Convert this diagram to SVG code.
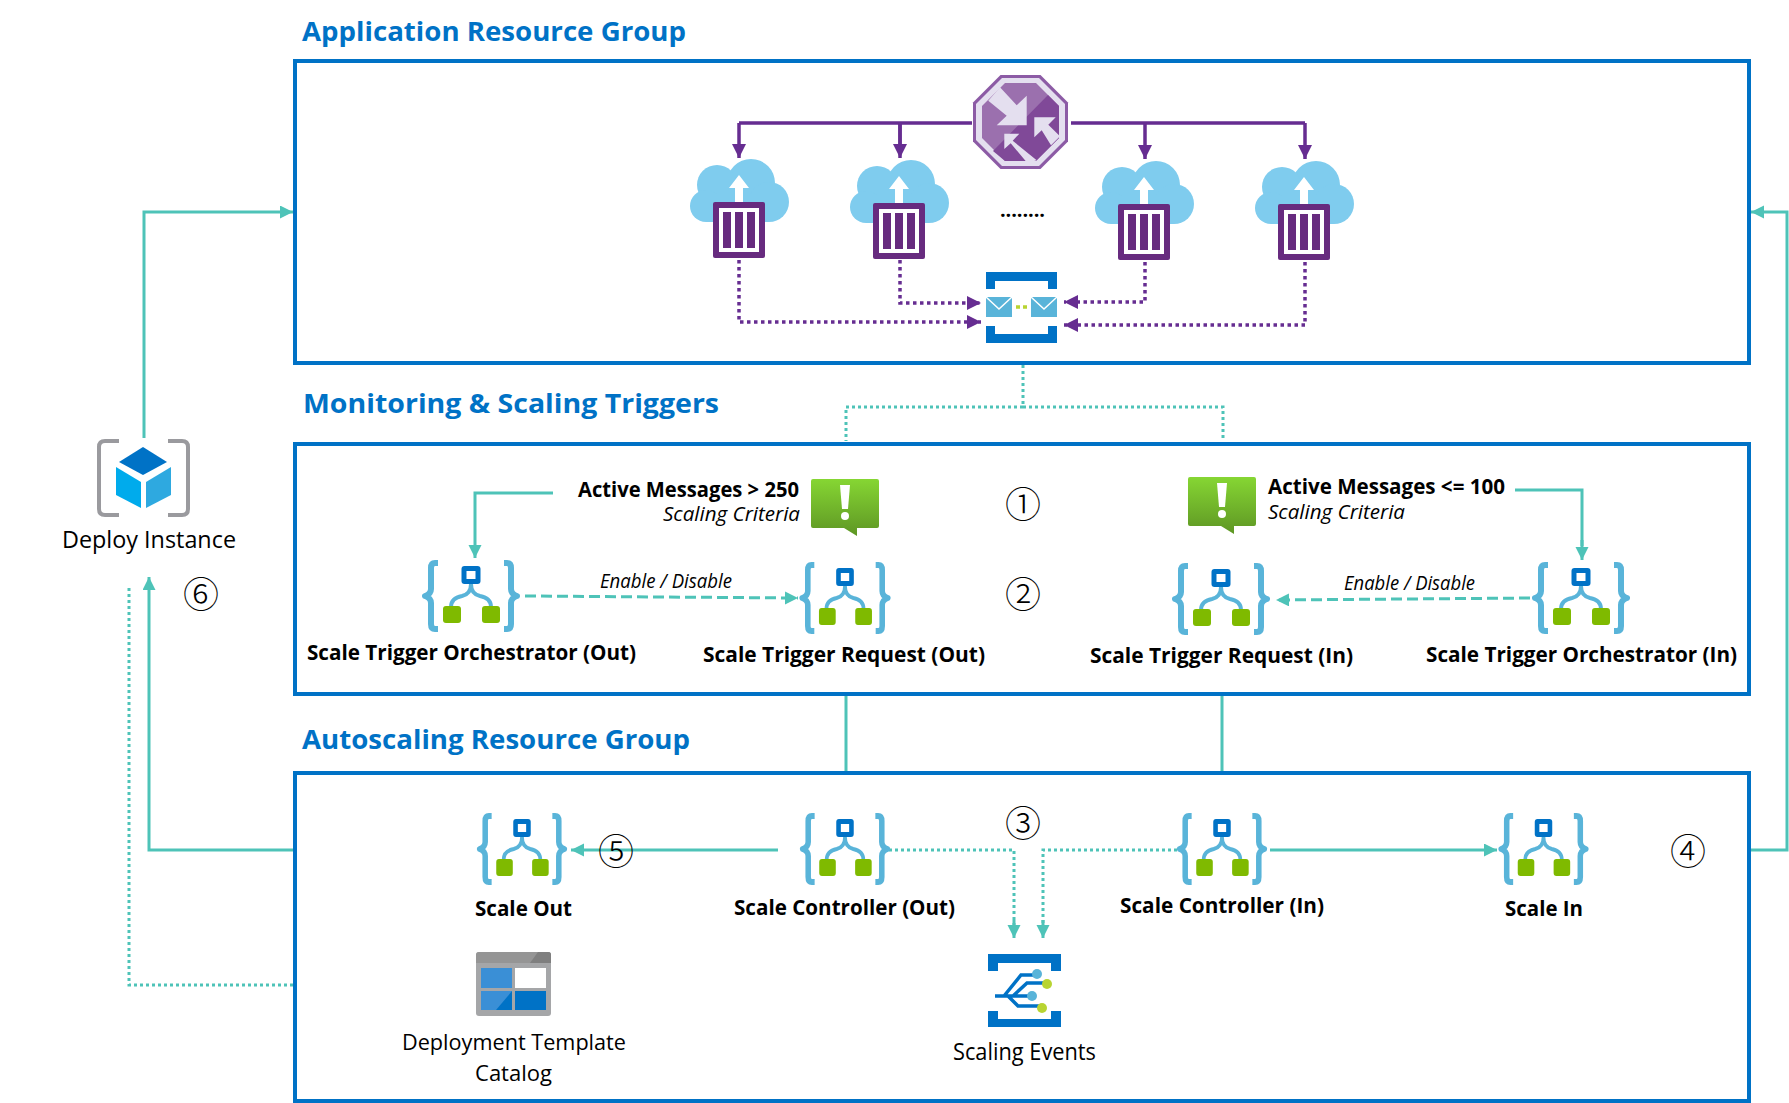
<svg xmlns="http://www.w3.org/2000/svg" width="1789" height="1103" viewBox="0 0 1789 1103">
<style>
text{font-family:"Open Sans","Noto Sans","Liberation Sans",sans-serif;fill:#000}
.title{font-size:27px;font-weight:700;fill:#0072C6}
.b{font-size:21px;font-weight:700}
.n{font-size:23px}
.n2{font-size:22px}
.i{font-size:20px;font-style:italic}
.num{font-family:"Noto Sans CJK SC","DejaVu Sans",sans-serif;font-size:36px;font-weight:300;text-anchor:middle}
.box{fill:none;stroke:#0072C6;stroke-width:4}
.t{fill:none;stroke:#4EC3B8;stroke-width:3}
.ta{marker-end:url(#ah)}
.dot{stroke-dasharray:3 3}
.dash{stroke-dasharray:11 5}
.p{fill:none;stroke:#662D91;stroke-width:3.5;marker-end:url(#ap)}
.pl{fill:none;stroke:#662D91;stroke-width:3.5}
.pd{stroke-dasharray:3.5 3.5}
</style>
<defs>
<marker id="ah" markerUnits="userSpaceOnUse" markerWidth="14" markerHeight="14" refX="13" refY="6.5" orient="auto"><path d="M0,0L13,6.5L0,13Z" fill="#4EC3B8"/></marker>
<marker id="ap" markerUnits="userSpaceOnUse" markerWidth="15" markerHeight="15" refX="14" refY="7" orient="auto"><path d="M0,0L14,7L0,14Z" fill="#662D91"/></marker>
<linearGradient id="g" x1="0" y1="0" x2="0" y2="1"><stop offset="0" stop-color="#86D633"/><stop offset="1" stop-color="#5E9624"/></linearGradient>
<g id="logic">
<path d="M-33,-33H-36Q-40,-33 -40,-28V-7Q-40,-2 -46,0Q-40,2 -40,7V28Q-40,33 -36,33H-33M33,-33H36Q40,-33 40,-28V-7Q40,-2 46,0Q40,2 40,7V28Q40,33 36,33H33" fill="none" stroke="#59B4D9" stroke-width="6" stroke-linejoin="round"/>
<path d="M-20,11Q-20,2 -9,0Q0,-2 0,-12Q0,-2 9,0Q20,2 20,11" fill="none" stroke="#59B4D9" stroke-width="4" stroke-linejoin="round"/>
<rect x="-9.500" y="-30" width="19" height="18" rx="3" fill="#0072C6"/>
<rect x="-4.500" y="-25" width="9" height="8" fill="#fff"/>
<rect x="-28" y="10" width="18" height="17" rx="3" fill="#7FBA00"/>
<rect x="11" y="10" width="18" height="17" rx="3" fill="#7FBA00"/>
</g>
<g id="cq">
<circle cx="12" cy="24" r="24" fill="#7FCCEE"/><circle cx="-22" cy="26" r="20" fill="#7FCCEE"/><circle cx="-33" cy="47" r="16" fill="#7FCCEE"/><circle cx="30" cy="43" r="20" fill="#7FCCEE"/>
<rect x="-33" y="35" width="63" height="28" fill="#7FCCEE"/>
<path d="M0,16L10,29H4V45H-4V29H-10Z" fill="#fff"/>
<rect x="-26" y="43" width="52" height="56" rx="2" fill="#672B7F"/>
<rect x="-20" y="49" width="40" height="44" fill="#fff"/>
<rect x="-16" y="53" width="8" height="36" fill="#672B7F"/><rect x="-4" y="53" width="8" height="36" fill="#672B7F"/><rect x="8" y="53" width="8" height="36" fill="#672B7F"/>
</g>
<g id="alert">
<path d="M2,0H66Q68,0 68,2V47Q68,49 66,49H46V57L33,49H2Q0,49 0,47V2Q0,0 2,0Z" fill="url(#g)"/>
<path d="M29,6H39L37,30H31Z" fill="#fff"/><circle cx="34" cy="37" r="4" fill="#fff"/>
</g>
</defs>
<rect width="1789" height="1103" fill="#fff"/>

<g id="connectors">
<path class="t ta" d="M144,438V212H293"/>
<path class="t ta" d="M295,850H149V577"/>
<path class="t dot" d="M293,985H129V588"/>
<path class="t ta" d="M1749,850H1787V212H1751"/>
<path class="t dot" d="M1023,365V407H846V441M1023,407H1223V441"/>
<path class="t" d="M846,694V772M1222,694V772"/>
<path class="t ta" d="M553,493H475V558"/>
<path class="t ta dash" d="M525,596L798,598"/>
<path class="t" d="M1515,490H1582V546"/>
<path class="t ta" d="M1582,540V560"/>
<path class="t ta dash" d="M1530,598L1276,600"/>
<path class="t ta" d="M778,850H571"/>
<path class="t dot" d="M889,850H1014V925"/>
<path class="t ta" d="M1014,920V938"/>
<path class="t dot" d="M1177,850H1043V925"/>
<path class="t ta" d="M1043,920V938"/>
<path class="t ta" d="M1270,850H1497"/>
<path class="pl" d="M972,123H739M900,123V145M1071,123H1305"/>
<path class="p" d="M739,123V158"/><path class="p" d="M900,123V158"/><path class="p" d="M1145,123V159"/><path class="p" d="M1305,123V159"/>
<path class="p pd" d="M739,260V322H981"/>
<path class="p pd" d="M900,260V303H981"/>
<path class="p pd" d="M1145,262V302H1064"/>
<path class="p pd" d="M1305,262V325H1064"/>
</g>

<g id="app-group">
<text class="title" x="302" y="41" textLength="384" lengthAdjust="spacingAndGlyphs">Application Resource Group</text>
<rect class="box" x="295" y="61" width="1454" height="302"/>
</g>
<g id="monitoring-group">
<text class="title" x="303" y="413" textLength="416" lengthAdjust="spacingAndGlyphs">Monitoring &amp; Scaling Triggers</text>
<rect class="box" x="295" y="444" width="1454" height="250"/>
</g>
<g id="autoscaling-group">
<text class="title" x="302" y="749" textLength="388" lengthAdjust="spacingAndGlyphs">Autoscaling Resource Group</text>
<rect class="box" x="295" y="773" width="1454" height="328"/>
</g>

<g id="traffic-manager">
<polygon points="1000.500,75 1040.500,75 1068,102.500 1068,141.500 1040.500,169 1000.500,169 973,141.500 973,102.500" fill="#8C5BA5"/>
<polygon points="1002,78 1039,78 1065,104 1065,140 1039,166 1002,166 976,140 976,104" fill="#E4DFEF"/>
<polygon points="1005,83 1036,83 1059,106 1059,138 1036,161 1005,161 982,138 982,106" fill="#9B70AE"/>
<polygon points="1048,95 1059,106 1059,138 1036,161 1005,161 993,151" fill="#804998"/>
<polygon points="1000,87.300 1016.700,105.300 1026.700,95.700 1026.700,125.300 996.700,125.300 1006.700,115.700 988.300,100.700" fill="#E4DFEF"/>
<polygon points="1034.300,117.300 1055.700,117.300 1048.300,124.700 1060,136.300 1051,145.300 1041.700,130.300 1034.300,137.300" fill="#E4DFEF"/>
<polygon points="1004.300,133.700 1019.300,133.700 1012.700,140.700 1036.700,160.300 1027.300,163 1010.700,143.300 1004.300,149" fill="#E4DFEF"/>
</g>
<g id="queue-1"><use href="#cq" x="739" y="159"/></g>
<g id="queue-2"><use href="#cq" x="899" y="160"/></g>
<g id="queue-3"><use href="#cq" x="1144" y="161"/></g>
<g id="queue-4"><use href="#cq" x="1304" y="161"/></g>
<text x="1000" y="217" font-size="20" font-weight="700" textLength="45" lengthAdjust="spacing">........</text>

<g id="service-bus">
<path d="M986,272H1057V289H1048V281H995V289H986ZM986,343H1057V326H1048V334H995V326H986Z" fill="#0072C6"/>
<rect x="986" y="297" width="26" height="20" fill="#59B4D9"/><rect x="1031" y="297" width="26" height="20" fill="#59B4D9"/>
<path d="M986,297L999,309L1012,297M1031,297L1044,309L1057,297" fill="none" stroke="#fff" stroke-width="1.500"/>
<path d="M1016,307H1020M1023,307H1027" stroke="#B8D432" stroke-width="3.500"/>
</g>

<g id="deploy-instance">
<path d="M119,441H105Q99,441 99,447V509Q99,515 105,515H119M168,441H182Q188,441 188,447V509Q188,515 182,515H168" fill="none" stroke="#9A9A9E" stroke-width="4"/>
<polygon points="143,447 167,462 143,475 119,462" fill="#0072C6"/>
<polygon points="116,467 141,482 141,508 116,495" fill="#00ABEC"/>
<polygon points="146,482 171,467 171,495 146,508" fill="#2EA9E0"/>
<text class="n" x="62" y="548" textLength="174" lengthAdjust="spacingAndGlyphs">Deploy Instance</text>
</g>

<g id="criteria-out">
<use href="#alert" x="811" y="479"/>
<text class="b" x="578" y="497" textLength="221" lengthAdjust="spacingAndGlyphs">Active Messages &gt; 250</text>
<text class="i" x="663" y="521" textLength="137" lengthAdjust="spacingAndGlyphs">Scaling Criteria</text>
</g>
<g id="criteria-in">
<use href="#alert" x="1188" y="477"/>
<text class="b" x="1268" y="494" textLength="237" lengthAdjust="spacingAndGlyphs">Active Messages &lt;= 100</text>
<text class="i" x="1268" y="519" textLength="137" lengthAdjust="spacingAndGlyphs">Scaling Criteria</text>
</g>
<text class="i" x="600" y="588" textLength="132" lengthAdjust="spacingAndGlyphs">Enable / Disable</text>
<text class="i" x="1344" y="590" textLength="131" lengthAdjust="spacingAndGlyphs">Enable / Disable</text>

<g id="orchestrator-out"><use href="#logic" x="471" y="596"/><text class="b" x="307" y="660" textLength="329" lengthAdjust="spacingAndGlyphs">Scale Trigger Orchestrator (Out)</text></g>
<g id="request-out"><use href="#logic" transform="translate(845 598) scale(.93 1)"/><text class="b" x="703" y="662" textLength="282" lengthAdjust="spacingAndGlyphs">Scale Trigger Request (Out)</text></g>
<g id="request-in"><use href="#logic" x="1221" y="599"/><text class="b" x="1090" y="663" textLength="263" lengthAdjust="spacingAndGlyphs">Scale Trigger Request (In)</text></g>
<g id="orchestrator-in"><use href="#logic" x="1581" y="598"/><text class="b" x="1426" y="662" textLength="311" lengthAdjust="spacingAndGlyphs">Scale Trigger Orchestrator (In)</text></g>

<g id="scale-out"><use href="#logic" transform="translate(522 849) scale(.92 1)"/><text class="b" x="475" y="916" textLength="97" lengthAdjust="spacingAndGlyphs">Scale Out</text></g>
<g id="controller-out"><use href="#logic" transform="translate(845 849) scale(.92 1)"/><text class="b" x="734" y="915" textLength="221" lengthAdjust="spacingAndGlyphs">Scale Controller (Out)</text></g>
<g id="controller-in"><use href="#logic" transform="translate(1222 849) scale(.92 1)"/><text class="b" x="1120" y="913" textLength="204" lengthAdjust="spacingAndGlyphs">Scale Controller (In)</text></g>
<g id="scale-in"><use href="#logic" transform="translate(1543.500 849) scale(.92 1)"/><text class="b" x="1505" y="916" textLength="78" lengthAdjust="spacingAndGlyphs">Scale In</text></g>

<g id="template-catalog">
<rect x="476" y="952" width="75" height="64" rx="3" fill="#A5A6A8"/>
<path d="M479,952H548Q551,952 551,955V963H476V955Q476,952 479,952Z" fill="#959595"/>
<path d="M538,952H548Q551,952 551,955V963H530Z" fill="#7F7F7F"/>
<rect x="481" y="968" width="31" height="20" fill="#3A8FD6"/><rect x="515" y="968" width="31" height="20" fill="#fff"/>
<rect x="481" y="991" width="31" height="19" fill="#0072C6"/><rect x="515" y="991" width="31" height="19" fill="#0072C6"/>
<polygon points="481,991 512,991 496,1010 481,1010" fill="#3A8FD6"/>
<text class="n2" x="402" y="1050" textLength="224" lengthAdjust="spacingAndGlyphs">Deployment Template</text>
<text class="n2" x="475" y="1081" textLength="77" lengthAdjust="spacingAndGlyphs">Catalog</text>
</g>

<g id="scaling-events">
<path d="M988,954H1061V971H1051V963H998V971H988ZM988,1027H1061V1011H1051V1019H998V1011H988Z" fill="#0072C6"/>
<path d="M995,996H1030M1004,996L1021,975H1034M1013,996L1027,983H1044M1008,996L1018,1006H1040" fill="none" stroke="#0072C6" stroke-width="3.500"/>
<circle cx="1037" cy="974" r="5" fill="#59B4D9"/><circle cx="1047" cy="984" r="5" fill="#B8D432"/><circle cx="1032" cy="996" r="5" fill="#59B4D9"/><circle cx="1042" cy="1008" r="5" fill="#B8D432"/>
<text class="n" x="953" y="1060" textLength="143" lengthAdjust="spacingAndGlyphs">Scaling Events</text>
</g>

<g id="steps">
<text class="num" x="1023" y="518">①</text>
<text class="num" x="1023" y="608">②</text>
<text class="num" x="1023" y="837">③</text>
<text class="num" x="1688" y="865">④</text>
<text class="num" x="616" y="865">⑤</text>
<text class="num" x="201" y="608">⑥</text>
</g>
</svg>
